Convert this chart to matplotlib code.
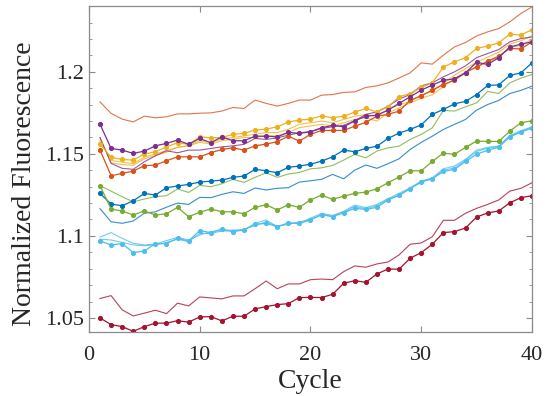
import numpy as np
import matplotlib
matplotlib.use('Agg')
import matplotlib.pyplot as plt
from matplotlib.ticker import MultipleLocator

plt.rcParams['font.family'] = ['Liberation Serif', 'DejaVu Serif']

cycles = np.arange(1, 41)

# MATLAB default line colours
c_blue = '#0072BD'
c_orange = '#D95319'
c_yellow = '#EDB120'
c_purple = '#7E2F8E'
c_green = '#77AC30'
c_cyan = '#4DBEEE'
c_red = '#A2142F'

# series with markers
orange_m = [1.1523, 1.1367, 1.1381, 1.1395, 1.1428, 1.1432, 1.1458, 1.1482, 1.1482, 1.1482,
            1.1507, 1.1527, 1.1537, 1.1523, 1.1549, 1.1560, 1.1574, 1.1608, 1.1578, 1.1619,
            1.1643, 1.1643, 1.1643, 1.1669, 1.1692, 1.1730, 1.1741, 1.1761, 1.1826, 1.1854,
            1.1889, 1.1923, 1.1949, 1.1996, 1.2030, 1.2065, 1.2096, 1.2143, 1.2140, 1.2183]
yellow_m = [1.1560, 1.1479, 1.1466, 1.1462, 1.1499, 1.1513, 1.1543, 1.1568, 1.1558, 1.1604,
            1.1598, 1.1600, 1.1619, 1.1625, 1.1645, 1.1651, 1.1665, 1.1694, 1.1706, 1.1712,
            1.1732, 1.1720, 1.1730, 1.1755, 1.1777, 1.1756, 1.1787, 1.1848, 1.1868, 1.1905,
            1.1933, 1.2030, 1.2061, 1.2087, 1.2143, 1.2157, 1.2177, 1.2230, 1.2224, 1.2258]
purple_m = [1.1681, 1.1533, 1.1523, 1.1503, 1.1517, 1.1549, 1.1564, 1.1584, 1.1558, 1.1594,
            1.1568, 1.1604, 1.1580, 1.1580, 1.1608, 1.1608, 1.1604, 1.1631, 1.1625, 1.1635,
            1.1659, 1.1674, 1.1665, 1.1702, 1.1730, 1.1736, 1.1767, 1.1808, 1.1848, 1.1889,
            1.1919, 1.1949, 1.1957, 1.1994, 1.2059, 1.2045, 1.2087, 1.2152, 1.2169, 1.2183]
blue_m = [1.1259, 1.1194, 1.1184, 1.1214, 1.1259, 1.1249, 1.1294, 1.1304, 1.1314, 1.1328,
          1.1334, 1.1340, 1.1357, 1.1365, 1.1406, 1.1397, 1.1385, 1.1418, 1.1426, 1.1437,
          1.1456, 1.1482, 1.1523, 1.1513, 1.1533, 1.1547, 1.1594, 1.1627, 1.1649, 1.1677,
          1.1741, 1.1771, 1.1805, 1.1820, 1.1862, 1.1917, 1.1921, 1.1978, 1.1994, 1.2055]
green_m = [1.1306, 1.1164, 1.1152, 1.1127, 1.1153, 1.1127, 1.1135, 1.1174, 1.1117, 1.1144,
           1.1164, 1.1147, 1.1147, 1.1135, 1.1174, 1.1190, 1.1158, 1.1190, 1.1174, 1.1220,
           1.1248, 1.1223, 1.1242, 1.1259, 1.1267, 1.1287, 1.1324, 1.1359, 1.1397, 1.1397,
           1.1454, 1.1505, 1.1497, 1.1540, 1.1578, 1.1576, 1.1576, 1.1639, 1.1689, 1.1702]
cyan_m = [1.0969, 1.0945, 1.0953, 1.0898, 1.0908, 1.0953, 1.0953, 1.0985, 1.0969, 1.1032,
          1.1020, 1.1042, 1.1026, 1.1036, 1.1070, 1.1077, 1.1056, 1.1079, 1.1077, 1.1097,
          1.1129, 1.1117, 1.1141, 1.1168, 1.1162, 1.1174, 1.1219, 1.1247, 1.1287, 1.1329,
          1.1348, 1.1393, 1.1405, 1.1454, 1.1497, 1.1523, 1.1541, 1.1604, 1.1633, 1.1657]
red_m = [1.0500, 1.0459, 1.0447, 1.0418, 1.0447, 1.0468, 1.0468, 1.0483, 1.0474, 1.0506,
         1.0508, 1.0482, 1.0510, 1.0510, 1.0555, 1.0569, 1.0581, 1.0587, 1.0624, 1.0625,
         1.0624, 1.0644, 1.0711, 1.0727, 1.0717, 1.0768, 1.0798, 1.0797, 1.0864, 1.0898,
         1.0949, 1.1020, 1.1026, 1.1048, 1.1115, 1.1140, 1.1152, 1.1202, 1.1233, 1.1245]

# plain series
orange_p = [1.1817, 1.1747, 1.1712, 1.1695, 1.1730, 1.1720, 1.1726, 1.1744, 1.1744, 1.1748,
            1.1750, 1.1761, 1.1783, 1.1777, 1.1828, 1.1808, 1.1791, 1.1808, 1.1828, 1.1828,
            1.1858, 1.1862, 1.1875, 1.1878, 1.1905, 1.1915, 1.1933, 1.1963, 1.1994, 1.2055,
            1.2047, 1.2102, 1.2152, 1.2179, 1.2219, 1.2244, 1.2264, 1.2305, 1.2356, 1.2396]
yellow_p1 = [1.158, 1.146, 1.145, 1.144, 1.148, 1.150, 1.152, 1.154, 1.155, 1.158,
             1.157, 1.159, 1.160, 1.161, 1.162, 1.163, 1.163, 1.165, 1.168, 1.169,
             1.170, 1.169, 1.171, 1.173, 1.174, 1.173, 1.177, 1.180, 1.182, 1.186,
             1.188, 1.193, 1.198, 1.202, 1.206, 1.209, 1.212, 1.217, 1.219, 1.222]
yellow_p2 = [1.160, 1.1445, 1.1435, 1.143, 1.147, 1.149, 1.151, 1.154, 1.155, 1.157,
             1.156, 1.158, 1.159, 1.160, 1.160, 1.161, 1.161, 1.163, 1.166, 1.167,
             1.168, 1.167, 1.169, 1.171, 1.172, 1.170, 1.175, 1.178, 1.181, 1.184,
             1.186, 1.191, 1.196, 1.200, 1.203, 1.206, 1.209, 1.215, 1.216, 1.220]
purple_p = [1.1600, 1.1442, 1.1412, 1.1406, 1.1452, 1.1488, 1.1519, 1.1507, 1.1523, 1.1523,
            1.1533, 1.1543, 1.1549, 1.1558, 1.1594, 1.1588, 1.1598, 1.1614, 1.1629, 1.1635,
            1.1655, 1.1665, 1.1675, 1.1702, 1.1741, 1.1756, 1.1791, 1.1834, 1.1862, 1.1915,
            1.1933, 1.1970, 1.2000, 1.2037, 1.2087, 1.2112, 1.2136, 1.2183, 1.2203, 1.2213]
blue_p = [1.1166, 1.1086, 1.1077, 1.1091, 1.1138, 1.1147, 1.1175, 1.1200, 1.1192, 1.1235,
          1.1233, 1.1253, 1.1269, 1.1259, 1.1292, 1.1280, 1.1290, 1.1294, 1.1328, 1.1336,
          1.1345, 1.1375, 1.1348, 1.1401, 1.1432, 1.1412, 1.1440, 1.1470, 1.1527, 1.1570,
          1.1608, 1.1649, 1.1680, 1.1710, 1.1767, 1.1801, 1.1826, 1.1868, 1.1887, 1.1913]
green_p = [1.1306, 1.1273, 1.1239, 1.1208, 1.1225, 1.1239, 1.1245, 1.1286, 1.1265, 1.1308,
           1.1300, 1.1318, 1.1345, 1.1326, 1.1357, 1.1385, 1.1357, 1.1377, 1.1387, 1.1409,
           1.1415, 1.1430, 1.1462, 1.1497, 1.1476, 1.1517, 1.1537, 1.1547, 1.1588, 1.1619,
           1.1659, 1.1765, 1.1761, 1.1787, 1.1811, 1.1881, 1.1868, 1.1933, 1.1962, 1.1984]
cyan_p1 = [1.0993, 1.1020, 1.0985, 1.0955, 1.0945, 1.0950, 1.0971, 1.0991, 1.0975, 1.1005,
           1.1026, 1.1032, 1.1036, 1.1036, 1.1077, 1.1097, 1.1056, 1.1077, 1.1077, 1.1108,
           1.1137, 1.1125, 1.1150, 1.1188, 1.1172, 1.1192, 1.1227, 1.1259, 1.1293, 1.1334,
           1.1354, 1.1409, 1.1426, 1.1467, 1.1523, 1.1540, 1.1547, 1.1613, 1.1641, 1.1665]
cyan_p2 = [1.0980, 1.0975, 1.0960, 1.0945, 1.0940, 1.0945, 1.0960, 1.0980, 1.0965, 1.1015,
           1.1015, 1.1030, 1.1030, 1.1040, 1.1065, 1.1085, 1.1060, 1.1070, 1.1085, 1.1100,
           1.1130, 1.1120, 1.1145, 1.1180, 1.1165, 1.1185, 1.1222, 1.1250, 1.1290, 1.1330,
           1.1350, 1.1400, 1.1415, 1.1460, 1.1515, 1.1535, 1.1545, 1.1608, 1.1636, 1.1660]
red_p = [1.0618, 1.0636, 1.0549, 1.0512, 1.0529, 1.0547, 1.0526, 1.0590, 1.0573, 1.0628,
         1.0622, 1.0616, 1.0634, 1.0634, 1.0678, 1.0725, 1.0678, 1.0707, 1.0707, 1.0733,
         1.0737, 1.0733, 1.0782, 1.0817, 1.0809, 1.0829, 1.0841, 1.0884, 1.0949, 1.0957,
         1.0995, 1.1095, 1.1095, 1.1138, 1.1168, 1.1192, 1.1219, 1.1273, 1.1290, 1.1324]

plain = [(orange_p, c_orange), (yellow_p1, c_yellow), (yellow_p2, c_yellow),
         (purple_p, c_purple), (blue_p, c_blue), (green_p, c_green),
         (cyan_p1, c_cyan), (cyan_p2, c_cyan), (red_p, c_red)]
marked = [(orange_m, c_orange), (yellow_m, c_yellow), (purple_m, c_purple),
          (blue_m, c_blue), (green_m, c_green), (cyan_m, c_cyan), (red_m, c_red)]

fig = plt.figure(figsize=(5.49, 3.96), dpi=100)
ax = fig.add_axes([0.162, 0.162, 0.807, 0.823])

for y, col in plain:
    ax.plot(cycles, y, color=col, lw=0.8, alpha=0.8)
for y, col in marked:
    ax.plot(cycles, y, color=col, lw=0.9, marker='o', markersize=2.7)

ax.set_xlim(0, 40)
ax.set_ylim(1.0415, 1.2402)
ax.set_xticks([0, 10, 20, 30, 40])
ax.set_yticks([1.05, 1.1, 1.15, 1.2])
ax.set_yticklabels(['1.05', '1.1', '1.15', '1.2'])
ax.yaxis.set_minor_locator(MultipleLocator(0.01))

axcol = '#8a8a8a'
for s in ax.spines.values():
    s.set_color(axcol)
    s.set_linewidth(0.9)
ax.tick_params(which='both', direction='in', top=True, right=True, color=axcol,
               labelcolor='#262626', labelsize=16)
ax.tick_params(which='major', length=4)
ax.tick_params(which='minor', length=2.5)
ax.tick_params(axis='x', pad=10)

ax.set_xlabel('Cycle', fontsize=20, color='#262626', labelpad=3)
ax.set_ylabel('Normalized Fluorescence', fontsize=20, color='#262626')
ax.yaxis.set_label_coords(-0.118, 0.455)

fig.savefig('out.png', dpi=100)
